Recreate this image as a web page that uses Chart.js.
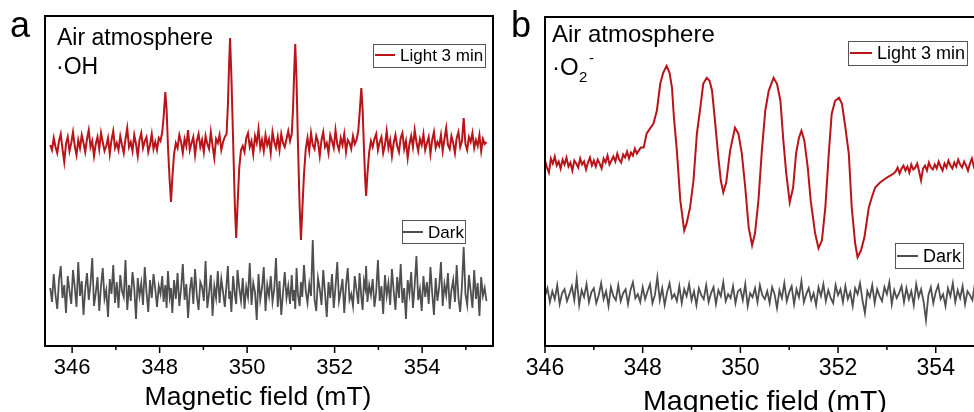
<!DOCTYPE html>
<html>
<head>
<meta charset="utf-8">
<script src="https://cdn.jsdelivr.net/npm/chart.js@4.4.1/dist/chart.umd.min.js"></script>
<style>
  html, body { margin: 0; padding: 0; background: #fff; overflow: hidden; width: 974px; height: 412px; }
  #panelA { position: absolute; left: 0; top: 0; width: 500px; height: 412px; }
  #panelB { position: absolute; left: 500px; top: 0; width: 515px; height: 412px; }
</style>
</head>
<body>
<div id="panelA"><canvas id="chartA"></canvas></div>
<div id="panelB"><canvas id="chartB"></canvas></div>
<script>
// ---- panel a: ·OH, field (mT) and intensity (a.u.) ----
const fieldA = [
  345.50, 345.54, 345.58, 345.62, 345.66, 345.70, 345.74, 345.78, 345.82, 345.86, 345.90, 345.94, 345.98,
  346.02, 346.06, 346.10, 346.14, 346.18, 346.22, 346.26, 346.30, 346.34, 346.38, 346.42, 346.46, 346.50,
  346.54, 346.58, 346.62, 346.66, 346.70, 346.74, 346.78, 346.82, 346.86, 346.90, 346.94, 346.98,
  347.02, 347.06, 347.10, 347.14, 347.18, 347.22, 347.26, 347.30, 347.34, 347.38, 347.42, 347.46, 347.50,
  347.54, 347.58, 347.62, 347.66, 347.70, 347.74, 347.78, 347.82, 347.86, 347.90, 347.94, 347.98,
  348.02, 348.06, 348.09, 348.13, 348.16, 348.19, 348.23, 348.26, 348.29, 348.33, 348.37,
  348.41, 348.45, 348.49, 348.53, 348.57, 348.61, 348.65, 348.69, 348.73, 348.77, 348.81, 348.85, 348.89, 348.93,
  348.97, 349.01, 349.05, 349.09, 349.13, 349.17, 349.21, 349.25, 349.29, 349.33, 349.37, 349.41, 349.45, 349.49,
  349.53, 349.56, 349.59, 349.61, 349.64, 349.68, 349.72, 349.75, 349.78, 349.82, 349.86,
  349.90, 349.94, 349.98, 350.02, 350.06, 350.10, 350.14, 350.18, 350.22, 350.26, 350.30, 350.34, 350.38, 350.42,
  350.46, 350.50, 350.54, 350.58, 350.62, 350.66, 350.70, 350.74, 350.78, 350.82, 350.86, 350.90, 350.94, 350.98,
  351.02, 351.05, 351.08, 351.10, 351.13, 351.16, 351.20, 351.23, 351.26, 351.30, 351.34,
  351.38, 351.42, 351.46, 351.50, 351.54, 351.58, 351.62, 351.66, 351.70, 351.74, 351.78, 351.82, 351.86, 351.90,
  351.94, 351.98, 352.02, 352.06, 352.10, 352.14, 352.18, 352.22, 352.26, 352.30, 352.34, 352.38, 352.42, 352.46,
  352.50, 352.54, 352.57, 352.61, 352.64, 352.67, 352.70, 352.72, 352.75, 352.79, 352.83,
  352.87, 352.91, 352.95, 352.99, 353.03, 353.07, 353.11, 353.15, 353.19, 353.23, 353.27, 353.31, 353.35, 353.39,
  353.43, 353.47, 353.51, 353.55, 353.59, 353.63, 353.67, 353.71, 353.75, 353.79, 353.83, 353.87, 353.91, 353.95,
  353.99, 354.03, 354.07, 354.11, 354.15, 354.19, 354.23, 354.27, 354.31, 354.35, 354.39, 354.43, 354.47, 354.51,
  354.55, 354.59, 354.63, 354.67, 354.71, 354.75, 354.79, 354.83, 354.87, 354.91, 354.95, 354.99, 355.03, 355.07,
  355.11, 355.15, 355.19, 355.23, 355.27, 355.31, 355.35, 355.39, 355.43, 355.47
];
const lightA = [
  201, 196, 208, 199, 193, 205, 212, 197, 184, 202, 209, 195, 203,
  214, 200, 191, 206, 198, 211, 203, 194, 207, 216, 199, 205, 190,
  202, 209, 197, 213, 204, 195, 200, 208, 192, 206, 215, 198, 203,
  196, 210, 201, 193, 207, 218, 199, 204, 195, 211, 202, 190, 206,
  213, 198, 205, 209, 194, 201, 212, 197, 204, 196, 208,
  205, 214, 228, 254, 236, 200, 165, 144, 168, 192, 203,
  198, 211, 204, 193, 207, 200, 216, 196, 203, 209, 191, 205, 212, 199,
  206, 194, 210, 202, 197, 214, 200, 188, 207, 203, 211, 196, 204, 209,
  212, 240, 285, 308, 270, 205, 140, 108, 140, 178, 196,
  200, 194, 208, 213, 199, 205, 192, 210, 203, 217, 198, 206, 195, 211,
  201, 207, 193, 214, 204, 198, 209, 196, 212, 203, 199, 207, 215, 205,
  212, 238, 280, 302, 265, 205, 140, 106, 135, 172, 197,
  208, 195, 213, 201, 197, 210, 204, 190, 206, 214, 199, 203, 193, 211,
  205, 198, 216, 202, 196, 208, 201, 212, 194, 206, 203, 197, 210, 202,
  206, 215, 232, 258, 236, 198, 165, 150, 172, 194, 205,
  199, 207, 212, 196, 204, 209, 193, 201, 215, 198, 206, 190, 203, 211,
  200, 194, 208, 213, 197, 205, 188, 202, 210, 199, 216, 204, 195, 207,
  201, 212, 196, 203, 209, 192, 206, 214, 198, 204, 200, 211, 195, 207,
  218, 201, 197, 210, 203, 193, 208, 214, 199, 205, 228, 202, 196, 209,
  204, 213, 198, 206, 200, 211, 195, 207, 202, 204
];
const darkA = [
  58, 44, 72, 51, 37, 66, 80, 48, 61, 33, 70, 55, 42,
  76, 59, 39, 84, 50, 65, 31, 57, 73, 46, 62, 88, 40,
  53, 69, 35, 60, 78, 47, 56, 29, 67, 52, 81, 43, 64,
  38, 71, 55, 49, 86, 36, 61, 45, 74, 58, 27, 68, 50,
  63, 41, 79, 54, 34, 66, 48, 72, 57, 39, 60,
  52, 70, 44, 61, 38, 75, 49, 58, 33, 66, 47,
  73, 40, 57, 82, 46, 62, 28, 55, 69, 42, 77, 51, 36, 64,
  59, 45, 85, 38, 53, 71, 30, 60, 48, 75, 43, 67, 54, 39,
  62, 80, 47, 55, 34, 70, 51, 42, 76, 58, 45,
  68, 37, 59, 49, 83, 41, 63, 54, 26, 72, 46, 58, 79, 35,
  61, 50, 70, 44, 57, 88, 39, 65, 31, 53, 74, 48, 60, 42,
  71, 45, 56, 37, 78, 52, 40, 64, 49, 81, 55,
  43, 62, 50, 106, 47, 35, 68, 57, 41, 76, 53, 29, 64, 48,
  72, 38, 59, 84, 45, 55, 67, 33, 61, 78, 46, 52, 40, 70,
  56, 42, 73, 49, 36, 65, 58, 80, 44, 61, 51,
  67, 39, 54, 86, 45, 60, 32, 71, 50, 63, 41, 77, 55, 36,
  69, 48, 82, 43, 58, 27, 66, 52, 74, 38, 61, 90, 46, 57,
  35, 70, 49, 64, 42, 79, 53, 31, 68, 45, 59, 84, 40, 62,
  51, 73, 37, 56, 66, 44, 81, 48, 34, 60, 99, 52, 41, 71,
  55, 38, 76, 47, 63, 30, 69, 50, 58, 45
];

// ---- panel b: ·O2-, field (mT) and intensity (a.u.) ----
const fieldB = [
  346.00, 346.04, 346.08, 346.12, 346.16, 346.20, 346.24, 346.28, 346.32, 346.36, 346.40, 346.44, 346.48,
  346.52, 346.56, 346.60, 346.64, 346.68, 346.72, 346.76, 346.80, 346.84, 346.88, 346.92, 346.96,
  347.00, 347.04, 347.08, 347.12, 347.16, 347.20, 347.24, 347.28, 347.32, 347.36, 347.40, 347.44, 347.48,
  347.52, 347.56, 347.60, 347.64, 347.68, 347.72, 347.76, 347.80, 347.84, 347.88, 347.92, 347.96,
  348.02, 348.08, 348.22, 348.29, 348.36, 348.42, 348.49, 348.55, 348.60, 348.64,
  348.70, 348.77, 348.85, 348.90, 348.97, 349.04, 349.11, 349.18, 349.24, 349.31,
  349.37, 349.42, 349.48, 349.55, 349.60, 349.65, 349.71, 349.79, 349.89, 349.96,
  350.03, 350.10, 350.17, 350.24, 350.30, 350.37, 350.44, 350.51, 350.58, 350.68,
  350.75, 350.82, 350.88, 350.94, 351.01, 351.08, 351.14, 351.20, 351.25, 351.31,
  351.38, 351.44, 351.53, 351.60, 351.67, 351.74, 351.81, 351.87, 351.94, 352.02,
  352.08, 352.15, 352.22, 352.28, 352.35, 352.40, 352.47, 352.54, 352.63, 352.69,
  352.76, 352.86, 353.00, 353.14,
  353.18, 353.22, 353.26, 353.30, 353.34, 353.38, 353.42, 353.46, 353.50, 353.54, 353.58,
  353.62, 353.66, 353.70, 353.74, 353.78, 353.82, 353.86, 353.90, 353.94, 353.98,
  354.02, 354.06, 354.10, 354.14, 354.18, 354.22, 354.26, 354.30, 354.34, 354.38, 354.42, 354.46, 354.50,
  354.54, 354.58, 354.62, 354.66, 354.70, 354.74, 354.78, 354.82, 354.86, 354.90, 354.94, 354.98,
  355.02, 355.06, 355.10, 355.14, 355.18, 355.22, 355.26, 355.30, 355.34, 355.38, 355.42, 355.46, 355.50
];
const lightB = [
  186, 179, 174, 188, 183, 190, 181, 185, 178, 187, 182, 189, 180,
  184, 176, 186, 183, 179, 188, 182, 185, 177, 184, 189, 181,
  186, 180, 187, 183, 178, 188, 184, 191, 182, 186, 190, 185, 193,
  187, 184, 192, 189, 195, 188, 194, 191, 198, 193, 196, 199,
  199, 213, 223, 236, 263, 274, 281, 274, 259, 229,
  196, 146, 116, 123, 139, 166, 213, 239, 263, 269,
  266, 256, 226, 189, 166, 154, 164, 196, 219, 213,
  193, 159, 119, 101, 113, 146, 196, 236, 256, 269,
  263, 246, 206, 173, 144, 159, 193, 209, 216, 206,
  179, 146, 113, 98, 106, 139, 193, 233, 246, 249,
  243, 219, 193, 139, 103, 89, 96, 109, 139, 149,
  159, 164, 169, 173,
  175, 179, 173, 178, 181, 176, 180, 174, 182, 177, 179,
  183, 175, 166, 178, 181, 176, 184, 179, 177,
  182, 178, 185, 180, 176, 183, 179, 186, 181, 178, 184, 180, 187,
  182, 179, 185, 181, 176, 183, 188, 180, 184, 178, 186,
  182, 189, 181, 185, 179, 187, 183, 180, 186, 182, 188, 184, 179
];
const fieldDarkB = [
  346.00, 346.05, 346.10, 346.15, 346.20, 346.25, 346.30, 346.35, 346.40, 346.45,
  346.50, 346.55, 346.60, 346.65, 346.70, 346.75, 346.80, 346.85, 346.90, 346.95,
  347.00, 347.05, 347.10, 347.15, 347.20, 347.25, 347.30, 347.35, 347.40, 347.45,
  347.50, 347.55, 347.60, 347.65, 347.70, 347.75, 347.80, 347.85, 347.90, 347.95,
  348.00, 348.05, 348.10, 348.15, 348.20, 348.25, 348.30, 348.35, 348.40, 348.45,
  348.50, 348.55, 348.60, 348.65, 348.70, 348.75, 348.80, 348.85, 348.90, 348.95,
  349.00, 349.05, 349.10, 349.15, 349.20, 349.25, 349.30, 349.35, 349.40, 349.45,
  349.50, 349.55, 349.60, 349.65, 349.70, 349.75, 349.80, 349.85, 349.90, 349.95,
  350.00, 350.05, 350.10, 350.15, 350.20, 350.25, 350.30, 350.35, 350.40, 350.45,
  350.50, 350.55, 350.60, 350.65, 350.70, 350.75, 350.80, 350.85, 350.90, 350.95,
  351.00, 351.05, 351.10, 351.15, 351.20, 351.25, 351.30, 351.35, 351.40, 351.45,
  351.50, 351.55, 351.60, 351.65, 351.70, 351.75, 351.80, 351.85, 351.90, 351.95,
  352.00, 352.05, 352.10, 352.15, 352.20, 352.25, 352.30, 352.35, 352.40, 352.45,
  352.50, 352.55, 352.60, 352.65, 352.70, 352.75, 352.80, 352.85, 352.90, 352.95,
  353.00, 353.05, 353.10, 353.15, 353.20, 353.25, 353.30, 353.35, 353.40, 353.45,
  353.50, 353.55, 353.60, 353.65, 353.70, 353.75, 353.80, 353.85, 353.90, 353.95,
  354.00, 354.05, 354.10, 354.15, 354.20, 354.25, 354.30, 354.35, 354.40, 354.45,
  354.50, 354.55, 354.60, 354.65, 354.70, 354.75, 354.80, 354.85, 354.90, 354.95,
  355.00, 355.05, 355.10, 355.15, 355.20, 355.25, 355.30, 355.35, 355.40, 355.45,
  355.50
];
const darkB = [
  50, 58, 44, 55, 47, 61, 42, 53, 57, 45,
  52, 60, 46, 68, 41, 56, 49, 62, 44, 54,
  58, 43, 51, 63, 47, 55, 40, 59, 50, 46,
  61, 45, 53, 57, 42, 56, 64, 48, 52, 44,
  59, 47, 55, 62, 43, 51, 69, 46, 58, 41,
  54, 63, 48, 52, 45, 60, 43, 57, 50, 62,
  46, 55, 41, 58, 51, 47, 61, 44, 53, 59,
  42, 56, 50, 64, 45, 52, 48, 60, 43, 55,
  57, 46, 62, 40, 53, 49, 58, 44, 61, 51,
  47, 55, 43, 59, 52, 38, 56, 48, 63, 45,
  54, 60, 42, 57, 49, 65, 44, 52, 58, 46,
  53, 41, 59, 50, 62, 45, 56, 48, 43, 61,
  51, 57, 44, 60, 47, 54, 40, 58, 52, 63,
  46, 33, 55, 49, 61, 43, 57, 50, 45, 59,
  52, 64, 42, 56, 48, 53, 60, 44, 58, 47,
  55, 41, 62, 49, 57, 45, 26, 51, 59, 43,
  54, 61, 47, 52, 40, 58, 50, 63, 44, 56,
  48, 60, 42, 55, 51, 46, 62, 53, 39, 57,
  49, 58, 45, 61, 52, 47, 56, 43, 59, 50,
  54
];

const RED = "#b81419";
const GREY = "#4f4f4f";
const FONT = '"Liberation Sans", Arial, sans-serif';

const zip = (xs, ys) => xs.map((x, i) => ({ x, y: ys[i] }));

// frame, minor/major ticks, panel letter, notes, legend boxes, axis title
const decorPlugin = {
  id: "decor",
  afterDraw(chart, args, o) {
    const { ctx, chartArea: a, scales: { x } } = chart;
    ctx.save();
    ctx.strokeStyle = "#000";
    ctx.lineWidth = 2;
    ctx.strokeRect(a.left, a.top, a.right - a.left, a.bottom - a.top);

    ctx.lineWidth = 1.5;
    x.ticks.forEach(t => {
      const px = x.getPixelForValue(t.value);
      const len = Math.round(t.value) % 2 === 0 ? 7 : 4;
      ctx.beginPath();
      ctx.moveTo(px, a.bottom);
      ctx.lineTo(px, a.bottom + len);
      ctx.stroke();
    });

    ctx.fillStyle = "#000";
    ctx.textBaseline = "alphabetic";
    ctx.textAlign = "left";
    ctx.font = `${o.letter.size}px ${FONT}`;
    ctx.fillText(o.letter.text, o.letter.x, o.letter.y);

    o.notes.forEach(n => {
      ctx.font = `${n.size}px ${FONT}`;
      ctx.fillText(n.text, n.x, n.y);
    });

    o.legends.forEach(l => {
      ctx.strokeStyle = "#555";
      ctx.lineWidth = 1;
      ctx.strokeRect(l.box[0] + 0.5, l.box[1] + 0.5, l.box[2], l.box[3]);
      ctx.strokeStyle = l.color;
      ctx.lineWidth = 2;
      ctx.beginPath();
      ctx.moveTo(l.line[0], l.line[2]);
      ctx.lineTo(l.line[1], l.line[2]);
      ctx.stroke();
      ctx.fillStyle = "#000";
      ctx.font = `${l.size}px ${FONT}`;
      ctx.textBaseline = "middle";
      ctx.fillText(l.text, l.tx, l.line[2] + 1);
      ctx.textBaseline = "alphabetic";
    });

    ctx.font = `${o.title.size}px ${FONT}`;
    ctx.textAlign = "center";
    ctx.fillText(o.title.text, o.title.x, o.title.y);
    ctx.restore();
  }
};

function makeChart(id, cfg) {
  return new Chart(document.getElementById(id), {
    type: "line",
    data: {
      datasets: [
        { label: "Light 3 min", data: cfg.light, borderColor: RED, borderWidth: 2, pointRadius: 0, tension: 0 },
        { label: "Dark", data: cfg.dark, borderColor: GREY, borderWidth: 1.8, pointRadius: 0, tension: 0 },
      ],
    },
    options: {
      responsive: true,
      maintainAspectRatio: false,
      animation: false,
      events: [],
      layout: { padding: { left: 45, top: cfg.top, right: cfg.right, bottom: 0 } },
      plugins: {
        legend: { display: false },
        tooltip: { enabled: false },
        decor: cfg.decor,
      },
      scales: {
        x: {
          type: "linear",
          min: cfg.xMin,
          max: cfg.xMax,
          afterFit: s => { s.height = 66; },
          grid: { display: false, drawTicks: false },
          border: { display: false },
          ticks: {
            stepSize: 1,
            includeBounds: false,
            autoSkip: false,
            maxRotation: 0,
            padding: cfg.tickPad,
            color: "#000",
            font: { family: FONT, size: cfg.tickSize },
            callback: v => (Math.round(v) % 2 === 0 ? String(Math.round(v)) : ""),
          },
        },
        y: { display: false, min: 0, max: 330 },
      },
    },
    plugins: [decorPlugin],
  });
}

makeChart("chartA", {
  light: zip(fieldA, lightA),
  dark: zip(fieldA, darkA),
  xMin: 345.38, xMax: 355.62,
  top: 16, right: 7, tickPad: 9, tickSize: 22,
  decor: {
    letter: { text: "a", x: 10, y: 37, size: 36 },
    notes: [
      { text: "Air atmosphere", x: 57, y: 45, size: 23 },
      { text: "\u00B7OH", x: 56, y: 74, size: 23 },
    ],
    legends: [
      { text: "Light 3 min", color: RED, box: [373, 44, 112, 23], line: [375, 395, 55], tx: 400, size: 17 },
      { text: "Dark", color: GREY, box: [402, 220, 63, 23], line: [403, 423, 232], tx: 428, size: 17 },
    ],
    title: { text: "Magnetic field (mT)", x: 258, y: 405, size: 26.5 },
  },
});

makeChart("chartB", {
  light: zip(fieldB, lightB),
  dark: zip(fieldDarkB, darkB),
  xMin: 346, xMax: 355.5,
  top: 17, right: 6, tickPad: 9, tickSize: 23,
  decor: {
    letter: { text: "b", x: 11, y: 37, size: 36 },
    notes: [
      { text: "Air atmosphere", x: 52, y: 42, size: 24 },
      { text: "\u00B7O", x: 52, y: 75, size: 24 },
      { text: "2", x: 79, y: 82, size: 15 },
      { text: "-", x: 89, y: 63, size: 15 },
    ],
    legends: [
      { text: "Light 3 min", color: RED, box: [348, 41, 119, 24], line: [350, 372, 53], tx: 377, size: 18 },
      { text: "Dark", color: GREY, box: [395, 243, 68, 25], line: [397, 418, 256], tx: 423, size: 18 },
    ],
    title: { text: "Magnetic field (mT)", x: 265, y: 410, size: 28.5 },
  },
});
</script>
</body>
</html>
